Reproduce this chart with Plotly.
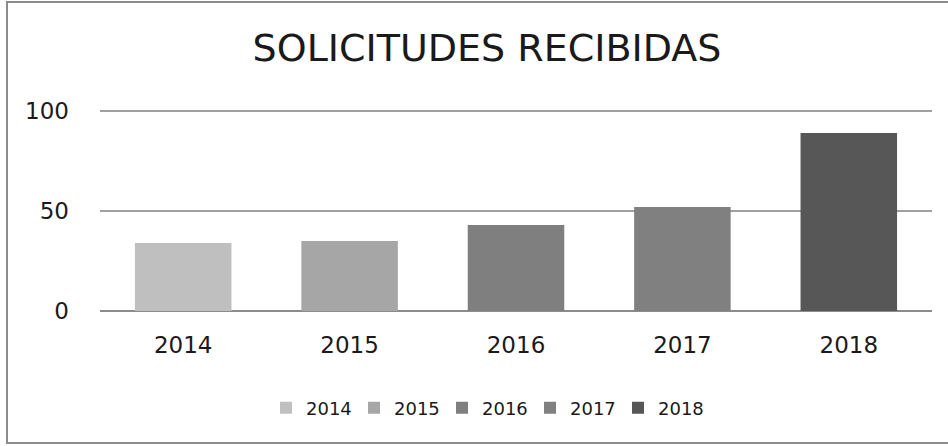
import plotly.graph_objects as go

years = ["2014", "2015", "2016", "2017", "2018"]
values = [34, 35, 43, 52, 89]
colors = ["#bfbfbf", "#a6a6a6", "#7f7f7f", "#808080", "#575757"]
title_text = "SOLICITUDES RECIBIDAS"
y_ticks = [0, 50, 100]

FONT = "DejaVu Sans"
W, H = 948, 446
L, R, T, B = 100, 16, 109, 135
pw, ph = W - L - R, H - T - B

fig = go.Figure()
for yr, v, c in zip(years, values, colors):
    fig.add_trace(go.Bar(x=[yr], y=[v], name=yr, marker_color=c,
                         marker_line_width=0, width=0.58, offset=-0.29))

def px_x(x):
    return (x - L) / pw

def px_y(y):
    return (H - B - y) / ph

fig.add_shape(type="rect", xref="paper", yref="paper",
              x0=px_x(7), x1=px_x(960), y0=px_y(443), y1=px_y(2),
              line=dict(color="#8c8c8c", width=2), fillcolor="rgba(0,0,0,0)", layer="below")

fig.update_layout(
    width=W, height=H,
    margin=dict(l=L, r=R, t=T, b=B),
    paper_bgcolor="white", plot_bgcolor="white",
    font=dict(family=FONT, color="#1a1a1a"),
    title=dict(text=title_text, x=487 / W, xref="container", xanchor="center",
               y=1 - 48 / H, yref="container", yanchor="middle",
               font=dict(size=38, family=FONT, color="#1a1a1a")),
    showlegend=True,
    legend=dict(orientation="h", x=px_x(266), y=px_y(408), xanchor="left", yanchor="middle",
                font=dict(size=18, family=FONT, color="#1a1a1a"),
                itemwidth=30, entrywidth=43, traceorder="normal"),
    xaxis=dict(type="category", categoryorder="array", categoryarray=years,
               showgrid=False, showline=False, ticks="",
               tickfont=dict(size=23, family=FONT, color="#1a1a1a"),
               ticklabelstandoff=18, range=[-0.5, 4.5]),
    yaxis=dict(range=[0, 101], tickvals=y_ticks, showgrid=True,
               gridcolor="#a0a0a0", gridwidth=1.5, zeroline=True,
               zerolinecolor="#8c8c8c", zerolinewidth=2, showline=False,
               tickfont=dict(size=23, family=FONT, color="#1a1a1a"),
               ticklabelstandoff=30),
)

fig.write_html("out.html", config={"displayModeBar": False},
               post_script="document.body.style.margin='0';")
